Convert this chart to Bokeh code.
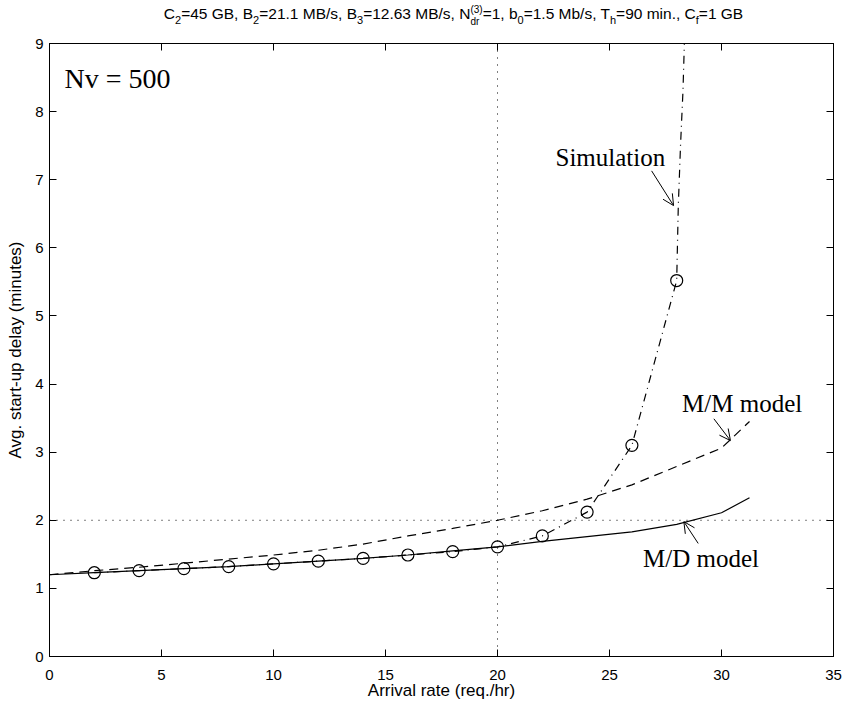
from bokeh.plotting import figure
from bokeh.models import (Div, LinearAxis, Span, Arrow, OpenHead, Range1d,
                          ColumnDataSource, FixedTicker)
from bokeh.layouts import column
from bokeh.core.properties import value
from bokeh.embed import file_html
from bokeh.resources import INLINE

# ---------------- data ----------------
x_model = [0, 2, 4, 6, 8, 10, 12, 14, 16, 18, 20, 22, 24, 26, 28, 30, 31.25]
md_delay = [1.20, 1.23, 1.26, 1.29, 1.32, 1.36, 1.40, 1.44, 1.49, 1.55, 1.61,
            1.69, 1.76, 1.83, 1.94, 2.11, 2.33]
mm_delay = [1.20, 1.26, 1.31, 1.37, 1.43, 1.49, 1.56, 1.65, 1.77, 1.88, 2.00,
            2.14, 2.31, 2.52, 2.79, 3.06, 3.45]

x_sim = [2, 4, 6, 8, 10, 12, 14, 16, 18, 20, 22, 24, 26, 28]
sim_delay = [1.23, 1.26, 1.29, 1.32, 1.36, 1.40, 1.44, 1.49, 1.54, 1.61, 1.77,
             2.12, 3.10, 5.52]
# simulated curve continues steeply beyond the last marker
x_sim_tail = [28.07, 28.17, 28.28, 28.36]
sim_tail = [6.6, 7.5, 8.3, 9.2]

x_ticks = [0, 5, 10, 15, 20, 25, 30, 35]
y_ticks = [0, 1, 2, 3, 4, 5, 6, 7, 8, 9]
ref_x = 20
ref_y = 2

label_text = ["Simulation", "M/M model", "M/D model"]
label_x = [22.59, 28.24, 26.5]
label_y = [7.33, 3.71, 1.44]

title_html = (
    "C<span class='s'>2</span>=45 GB, B<span class='s'>2</span>=21.1 MB/s, "
    "B<span class='s'>3</span>=12.63 MB/s, "
    "N<span class='st'><span class='b'>(3)</span><span class='b'>dr</span></span>=1, "
    "b<span class='s'>0</span>=1.5 Mb/s, T<span class='s'>h</span>=90 min., "
    "C<span class='s'>f</span>=1 GB"
)

# ---------------- title ----------------
div = Div(
    text=(
        "<style>.s{font-size:11px;vertical-align:-5px;}"
        ".st{display:inline-block;font-size:10px;line-height:12px;vertical-align:-6px;text-align:left;}"
        ".b{display:block;}</style>"
        "<div style=\"width:843px;box-sizing:border-box;padding-left:64px;"
        "text-align:center;font-family:'Liberation Sans',Arial,sans-serif;"
        "font-size:15.5px;line-height:28px;color:#000;white-space:nowrap;\">"
        + title_html + "</div>"
    ),
    width=843, height=28, margin=(0, 0, 0, 0),
)

# ---------------- figure ----------------
p = figure(width=843, height=678, output_backend="svg", toolbar_location=None,
           x_range=Range1d(0, 35), y_range=Range1d(0, 9),
           min_border_left=49, min_border_right=10, min_border_top=15,
           min_border_bottom=50, margin=(0, 0, 0, 0))
p.grid.visible = False
p.outline_line_color = "black"
p.outline_line_width = 1
p.background_fill_color = "white"
p.border_fill_color = "white"

FONT = "Liberation Sans"
for ax in (p.xaxis[0], p.yaxis[0]):
    ax.major_tick_in = 7
    ax.major_tick_out = 0
    ax.minor_tick_line_color = None
    ax.axis_line_color = "black"
    ax.major_tick_line_color = "black"
    ax.major_label_text_font = FONT
    ax.major_label_text_font_size = "15px"
    ax.major_label_text_color = "black"
    ax.axis_label_text_font = FONT
    ax.axis_label_text_font_size = "17px"
    ax.axis_label_text_font_style = "normal"
    ax.axis_label_text_color = "black"

p.xaxis.ticker = FixedTicker(ticks=x_ticks)
p.yaxis.ticker = FixedTicker(ticks=y_ticks)
p.xaxis.axis_label = "Arrival rate (req./hr)"
p.yaxis.axis_label = "Avg. start-up delay (minutes)"
p.xaxis.major_label_standoff = 13
p.xaxis.axis_label_standoff = -2
p.yaxis.major_label_standoff = 6
p.yaxis.axis_label_standoff = 7

# mirrored tick marks on top and right (no labels)
top = LinearAxis(ticker=FixedTicker(ticks=x_ticks), major_tick_in=7,
                 major_tick_out=0, minor_tick_line_color=None,
                 major_label_text_color=None, major_label_text_font_size="1px",
                 major_label_standoff=0)
right = LinearAxis(ticker=FixedTicker(ticks=y_ticks), major_tick_in=7,
                   major_tick_out=0, minor_tick_line_color=None,
                   major_label_text_color=None, major_label_text_font_size="1px",
                   major_label_standoff=0)
p.add_layout(top, "above")
p.add_layout(right, "right")

# reference dotted lines
p.add_layout(Span(location=ref_x, dimension="height", line_color="black",
                  line_dash="1 6", line_width=1))
p.add_layout(Span(location=ref_y, dimension="width", line_color="black",
                  line_dash="1 6", line_width=1))

# curves
p.line(x_model, md_delay, line_color="black", line_width=1.2)
p.line(x_model, mm_delay, line_color="black", line_width=1.2, line_dash="9 6")
p.line(x_sim + x_sim_tail, sim_delay + sim_tail, line_color="black",
       line_width=1.2, line_dash="8 5 1 5")
p.scatter(x_sim, sim_delay, marker="circle", size=12, fill_color=None,
          line_color="black", line_width=1.2)

# text annotations
p.text(x=[0.67], y=[8.49], text=["Nv = 500"], text_font=value("Liberation Serif"),
       text_font_size="28px", text_baseline="alphabetic", text_align="left",
       text_color="black")
src = ColumnDataSource(dict(x=label_x, y=label_y, t=label_text))
p.text(x="x", y="y", text="t", source=src, text_font=value("Liberation Serif"),
       text_font_size="25px", text_baseline="alphabetic", text_align="left",
       text_color="black")

# arrows
for xs, ys, xe, ye in [(26.88, 7.13, 27.86, 6.62),
                       (29.66, 3.49, 30.40, 3.17),
                       (28.96, 1.66, 28.32, 1.98)]:
    p.add_layout(Arrow(end=OpenHead(size=11, line_width=1, line_color="black"),
                       x_start=xs, y_start=ys, x_end=xe, y_end=ye,
                       line_color="black", line_width=1))

layout = column(div, p, spacing=0, margin=(0, 0, 0, 0))
open("out.html", "w").write(file_html(layout, INLINE))
